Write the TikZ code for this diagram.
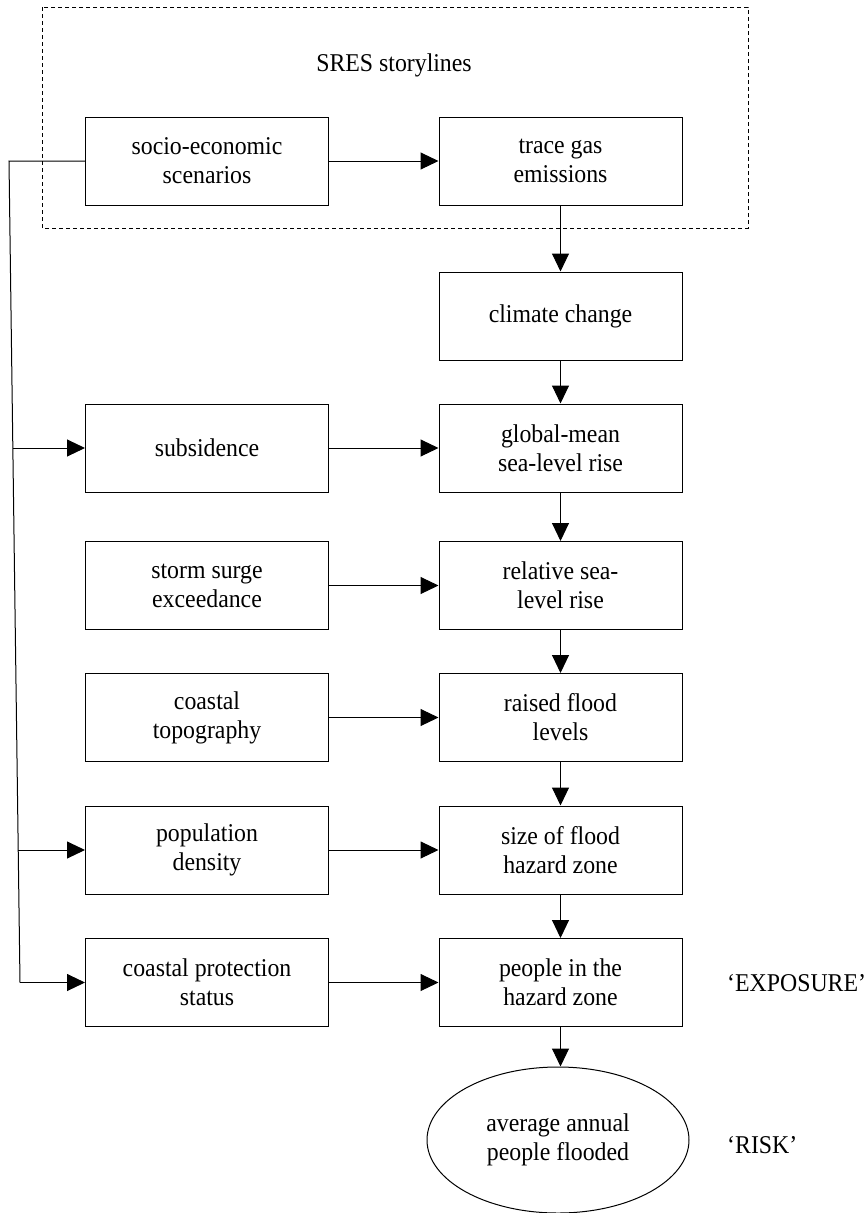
\documentclass[tikz,border=0pt]{standalone}
\usepackage{fontspec}
\setmainfont{Liberation Serif}[FakeStretch=0.93]
\usetikzlibrary{arrows.meta,shapes.geometric}
\begin{document}
\begin{tikzpicture}[x=1pt,y=-1pt,
  every node/.style={font=\fontsize{25.6}{29}\selectfont},
  box/.style={draw,line width=1pt,minimum width=243pt,minimum height=88pt,inner sep=0pt,align=center},
  oval/.style={draw,line width=1pt,ellipse,minimum width=262pt,minimum height=146pt,inner sep=0pt,align=center},
  lbl/.style={anchor=west,inner sep=0pt},
  conn/.style={line width=1pt,-{Triangle[length=18pt,width=17pt]}},
  plain/.style={line width=1pt},
  dashedbox/.style={line width=0.9pt,dash pattern=on 4pt off 3pt}]
\useasboundingbox (0,0) rectangle (867,1213);
\draw[dashedbox] (42,7) rectangle (748,228);
\node (sres) at (394,65) {SRES storylines};
% left column
\node[box] (socio) at (207,161) {socio-economic\\scenarios};
\node[box] (subs) at (207,448) {subsidence};
\node[box] (storm) at (207,585.5) {storm surge\\exceedance};
\node[box] (topo) at (207,717.5) {coastal\\topography};
\node[box] (pop) at (207,850) {population\\density};
\node[box] (prot) at (207,982.5) {coastal protection\\status};
% right column
\node[box] (trace) at (560.5,161) {trace gas\\emissions};
\node[box] (clim) at (560.5,316) {climate change};
\node[box] (gmslr) at (560.5,448) {global-mean\\sea-level rise};
\node[box] (rslr) at (560.5,585.5) {relative sea-\\level rise};
\node[box] (flood) at (560.5,717.5) {raised flood\\levels};
\node[box] (zone) at (560.5,850) {size of flood\\hazard zone};
\node[box] (people) at (560.5,982.5) {people in the\\hazard zone};
\node[oval] (risk) at (558,1140) {average annual\\people flooded};
\node[lbl] (expo) at (727,983) {‘EXPOSURE’};
\node[lbl] (risklbl) at (727,1145) {‘RISK’};
% vertical chain
\draw[conn] (trace) -- (clim);
\draw[conn] (clim) -- (gmslr);
\draw[conn] (gmslr) -- (rslr);
\draw[conn] (rslr) -- (flood);
\draw[conn] (flood) -- (zone);
\draw[conn] (zone) -- (people);
\draw[conn] (people.south) -- (people.south |- risk.north);
% horizontal
\draw[conn] (socio) -- (trace);
\draw[conn] (subs) -- (gmslr);
\draw[conn] (storm) -- (rslr);
\draw[conn] (topo) -- (flood);
\draw[conn] (pop) -- (zone);
\draw[conn] (prot) -- (people);
% feedback line on the left
\coordinate (ltop) at (9,161);
\coordinate (lsub) at (12.8,448);
\coordinate (lpop) at (18.2,850);
\coordinate (lbot) at (20,982.5);
\draw[plain] (socio.west) -- (ltop) -- (lbot);
\draw[conn] (lbot) -- (prot.west);
\draw[conn] (lsub) -- (subs.west);
\draw[conn] (lpop) -- (pop.west);
\end{tikzpicture}
\end{document}
